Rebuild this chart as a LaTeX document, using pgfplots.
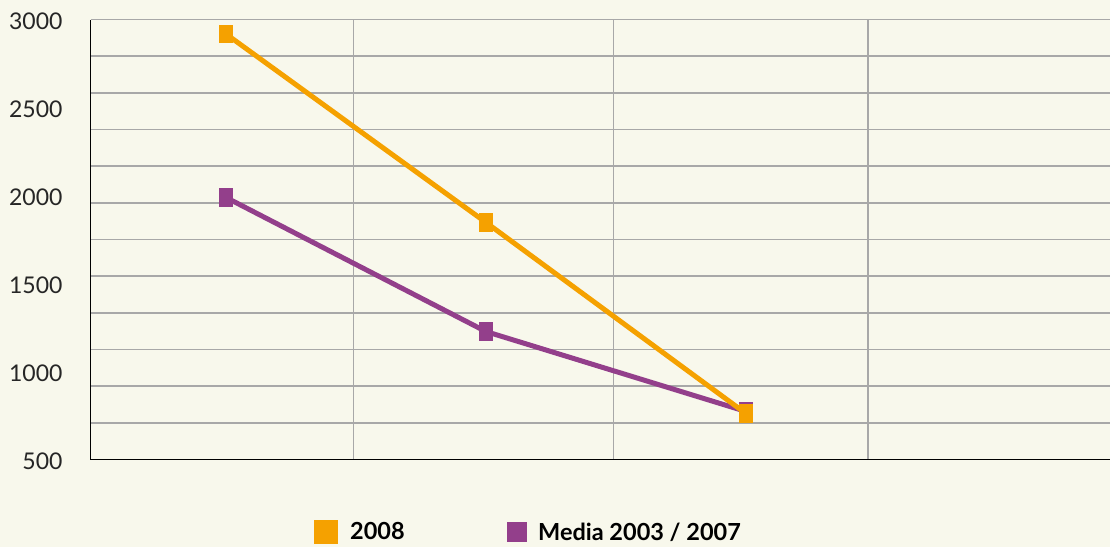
\documentclass[border=0pt]{standalone}
\usepackage{fontspec}
\setmainfont{Lato}
\usepackage{pgfplots}
\pgfplotsset{compat=1.18}
\definecolor{bg}{HTML}{F8F8EC}
\definecolor{c2008}{HTML}{F5A100}
\definecolor{cmedia}{HTML}{933F8B}
\definecolor{gridc}{HTML}{A8A8A8}
\begin{document}
\begin{tikzpicture}
\fill[bg] (-90.7pt,-87.5pt) rectangle (1019.3pt,459.5pt);
\path[use as bounding box] (-90.7pt,-87.5pt) rectangle (1019.3pt,459.5pt);
\begin{axis}[
  at={(0pt,0pt)}, anchor=south west,
  scale only axis, width=1019.3pt, height=440pt,
  xmin=0, xmax=3.92, ymin=500, ymax=3000,
  axis x line*=bottom, axis y line*=left,
  axis line style={black, line width=1.5pt, -},
  xtick={1.01,2.01,2.99}, xticklabels={}, xmajorgrids,
  ytick={500,708.33,916.67,1125,1333.33,1541.67,1750,1958.33,2166.67,2375,2583.33,2791.67,3000},
  yticklabels={}, ymajorgrids,
  major grid style={gridc, line width=1.5pt},
  major tick length=0pt,
  extra y ticks={500,1000,1500,2000,2500,3000},
  extra y tick labels={500,1000,1500,2000,2500,3000},
  extra y tick style={grid=none, yticklabel style={anchor=east, inner sep=0pt, xshift=-28pt, yshift=-2pt, font=\fontsize{23}{23}\selectfont, text=black!85}},
  clip=false,
  legend columns=2,
  legend image code/.code={\fill (0pt,-9.5pt) rectangle (19pt,9.5pt);},
  legend style={at={(0.2191,-0.165)}, anchor=west, draw=none, fill=none, inner sep=0pt,
    font=\fontsize{23.5}{23.5}\selectfont\bfseries,
    /tikz/every odd column/.append style={column sep=10pt},
    /tikz/every even column/.append style={column sep=100pt}},
]
\addplot[color=cmedia, line width=5pt, mark=square*, mark size=6.67pt, mark options={yscale=1.31, line width=0pt}, forget plot]
  coordinates {(0.52,1989) (1.52,1227) (2.52,773)};
\addplot[color=c2008, line width=5pt, mark=square*, mark size=6.67pt, mark options={yscale=1.31, line width=0pt}]
  coordinates {(0.52,2918) (1.52,1847) (2.52,761)};
\addlegendentry{2008}
\addlegendimage{color=cmedia}
\addlegendentry{Media 2003 / 2007}
\end{axis}
\end{tikzpicture}
\end{document}
